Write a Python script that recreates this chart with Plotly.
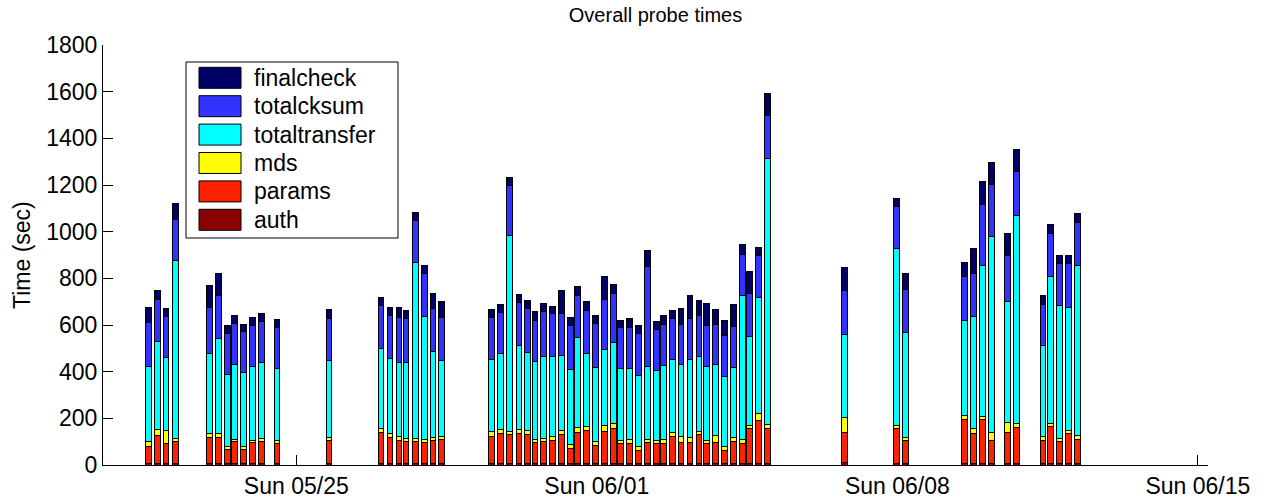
import plotly.graph_objects as go

# ---- data ----
times = [
    "2008-05-21 13:15", "2008-05-21 18:18", "2008-05-21 23:10", "2008-05-22 04:20",
    "2008-05-22 23:20", "2008-05-23 04:24", "2008-05-23 09:25", "2008-05-23 13:20",
    "2008-05-23 18:22", "2008-05-23 23:24", "2008-05-24 04:26", "2008-05-24 13:13",
    "2008-05-25 18:17",
    "2008-05-26 23:21", "2008-05-27 04:23", "2008-05-27 09:25", "2008-05-27 13:20",
    "2008-05-27 18:32", "2008-05-27 23:34", "2008-05-28 04:25", "2008-05-28 09:17",
    "2008-05-29 13:14", "2008-05-29 18:16", "2008-05-29 23:18", "2008-05-30 04:30",
    "2008-05-30 09:22", "2008-05-30 13:27", "2008-05-30 18:18", "2008-05-30 23:20",
    "2008-05-31 04:22", "2008-05-31 09:24", "2008-05-31 13:19", "2008-05-31 18:21",
    "2008-05-31 23:23", "2008-06-01 04:25", "2008-06-01 09:13", "2008-06-01 13:21",
    "2008-06-01 18:23", "2008-06-01 23:12", "2008-06-02 04:14", "2008-06-02 09:16",
    "2008-06-02 13:10", "2008-06-02 18:25", "2008-06-02 23:04", "2008-06-03 04:06",
    "2008-06-03 09:08", "2008-06-03 13:13", "2008-06-03 18:15", "2008-06-03 23:30",
    "2008-06-04 04:18", "2008-06-04 09:20", "2008-06-04 13:15", "2008-06-04 18:17",
    "2008-06-04 23:19",
    "2008-06-06 18:22", "2008-06-07 23:28", "2008-06-08 04:30",
    "2008-06-09 13:29", "2008-06-09 18:30", "2008-06-09 23:32", "2008-06-10 04:35",
    "2008-06-10 13:32", "2008-06-10 18:33", "2008-06-11 09:29", "2008-06-11 13:34",
    "2008-06-11 18:36", "2008-06-11 23:37", "2008-06-12 04:39",
]

auth = [5] * 54 + [12] + [5] * 13

params = [76, 123, 88, 94, 114, 115, 62, 94, 62, 91, 94, 88,
          98,
          134, 114, 99, 94, 94, 92, 99, 105,
          119, 128, 126, 128, 126, 91, 94, 99, 124, 65, 136, 142, 79, 138, 152, 88,
          88, 59, 92, 86, 88, 119, 92, 92, 124, 88, 92, 59, 95, 88, 152, 184, 152,
          128, 151, 98,
          191, 131, 188, 102, 134, 156, 101, 159, 95, 128, 105]

mds = [19, 25, 54, 15, 17, 14, 14, 11, 12, 11, 14, 14,
       17,
       17, 17, 17, 15, 15, 14, 15, 14,
       19, 20, 12, 20, 19, 14, 15, 17, 21, 19, 19, 17, 15, 28, 19, 14,
       17, 17, 13, 12, 17, 16, 24, 22, 14, 14, 30, 15, 17, 17, 14, 32, 17,
       64, 15, 14,
       17, 20, 17, 33, 42, 18, 15, 16, 14, 17, 16]

totaltransfer = [324, 378, 313, 763, 340, 410, 308, 321, 317, 314, 326, 307,
                 327,
                 343, 321, 318, 326, 756, 526, 367, 325,
                 311, 324, 841, 361, 334, 334, 353, 342, 319, 320, 386, 315, 320, 322, 348, 306,
                 303, 303, 311, 304, 316, 314, 309, 335, 321, 316, 302, 302, 302, 617, 379, 495, 1140,
                 356, 756, 450,
                 407, 480, 647, 839, 518, 891, 392, 630, 569, 527, 727]

totalcksum = [187, 180, 176, 176, 198, 182, 175, 176, 175, 176, 175, 176,
              183,
              185, 184, 194, 187, 177, 182, 184, 182,
              177, 177, 212, 182, 187, 177, 190, 185, 181, 187, 181, 184, 188, 218, 212, 176,
              178, 180, 429, 174, 177, 175, 174, 175, 176, 174, 175, 173, 174, 177, 186, 181, 182,
              186, 180, 184,
              187, 185, 260, 222, 197, 187, 176, 183, 180, 186, 187]

finalcheck = [65, 39, 35, 68, 96, 95, 36, 33, 33, 34, 36, 34,
              35,
              36, 35, 40, 34, 36, 37, 64, 69,
              36, 35, 37, 34, 36, 35, 34, 33, 96, 35, 36, 36, 34, 96, 38, 32,
              35, 36, 68, 36, 36, 34, 67, 97, 64, 96, 63, 67, 97, 39, 95, 36, 97,
              100, 34, 68,
              63, 105, 97, 96, 95, 96, 37, 36, 34, 36, 40]

series_names = ["auth", "params", "mds", "totaltransfer", "totalcksum", "finalcheck"]
series_values = [auth, params, mds, totaltransfer, totalcksum, finalcheck]
series_colors = ["#8b0000", "#ff2200", "#ffff00", "#00ffff", "#3333ff", "#000066"]

tick_dates = ["2008-05-25", "2008-06-01", "2008-06-08", "2008-06-15"]
tick_labels = ["Sun 05/25", "Sun 06/01", "Sun 06/08", "Sun 06/15"]

FONT = "Liberation Sans, Arial, Helvetica, sans-serif"
FS = 23
BAR_WIDTH_MS = 0.135 * 86400000

FIG_W, FIG_H = 1269, 503
ML, MR, MT, MB = 103, 61, 45, 38
W_PLOT = FIG_W - ML - MR
H_PLOT = FIG_H - MT - MB

fig = go.Figure()
for name, vals, col in zip(series_names, series_values, series_colors):
    fig.add_trace(go.Bar(
        x=times, y=vals, name=name,
        width=[BAR_WIDTH_MS] * len(times),
        marker=dict(color=col, line=dict(color="black", width=1)),
        showlegend=False,
    ))


def px_x(px):
    # page pixel -> paper fraction
    return (px - ML) / W_PLOT


def px_y(py):
    return (MT + H_PLOT - py) / H_PLOT


# ---- legend drawn as a MATLAB-style box ----
shapes = [dict(type="rect", xref="paper", yref="paper",
               x0=px_x(186), x1=px_x(398), y0=px_y(238), y1=px_y(62),
               line=dict(color="black", width=1), fillcolor="white", layer="above")]
annotations = []
legend_order = list(range(len(series_names)))[::-1]
for i, k in enumerate(legend_order):
    cy = 77.8 + 28.4 * i
    shapes.append(dict(type="rect", xref="paper", yref="paper",
                       x0=px_x(199), x1=px_x(241), y0=px_y(cy + 10.5), y1=px_y(cy - 10.5),
                       line=dict(color="black", width=1), fillcolor=series_colors[k],
                       layer="above"))
    annotations.append(dict(xref="paper", yref="paper", x=px_x(252), y=px_y(cy),
                            xanchor="left", yanchor="middle", showarrow=False,
                            text=series_names[k], font=dict(family=FONT, size=FS, color="black")))

annotations.append(dict(xref="paper", yref="paper", x=px_x(22), y=0.5,
                        xanchor="center", yanchor="middle", showarrow=False, textangle=-90,
                        text="Time (sec)", font=dict(family=FONT, size=FS, color="black")))

fig.update_layout(
    template="none",
    width=FIG_W, height=FIG_H,
    margin=dict(l=ML, r=MR, t=MT, b=MB, autoexpand=False),
    paper_bgcolor="white", plot_bgcolor="white",
    barmode="stack",
    showlegend=False,
    font=dict(family=FONT, size=FS, color="black"),
    title=dict(text="Overall probe times", x=0.5, xref="paper", xanchor="center",
               y=1 - 15 / FIG_H, yref="container", yanchor="middle", automargin=False,
               font=dict(family=FONT, size=20, color="black")),
    shapes=shapes,
    annotations=annotations,
    xaxis=dict(type="date", range=["2008-05-20 11:56", "2008-06-15 05:41"],
               tickvals=tick_dates, ticktext=tick_labels, automargin=False,
               ticks="inside", ticklen=10, tickcolor="black", tickwidth=1,
               showline=True, linecolor="black", linewidth=1,
               showgrid=False, zeroline=False, layer="below traces",
               tickfont=dict(family=FONT, size=FS, color="black")),
    yaxis=dict(range=[0, 1800], tickvals=list(range(0, 1801, 200)), automargin=False,
               ticks="inside", ticklen=10, tickcolor="black", tickwidth=1,
               showline=True, linecolor="black", linewidth=1,
               showgrid=False, zeroline=False, layer="below traces",
               tickfont=dict(family=FONT, size=FS, color="black")),
)

# remove the browser's default 8px body margin so the figure fills the window
fig.write_html("out.html",
               config={"displayModeBar": False},
               post_script="document.body.style.margin='0px';document.body.style.overflow='hidden';")
